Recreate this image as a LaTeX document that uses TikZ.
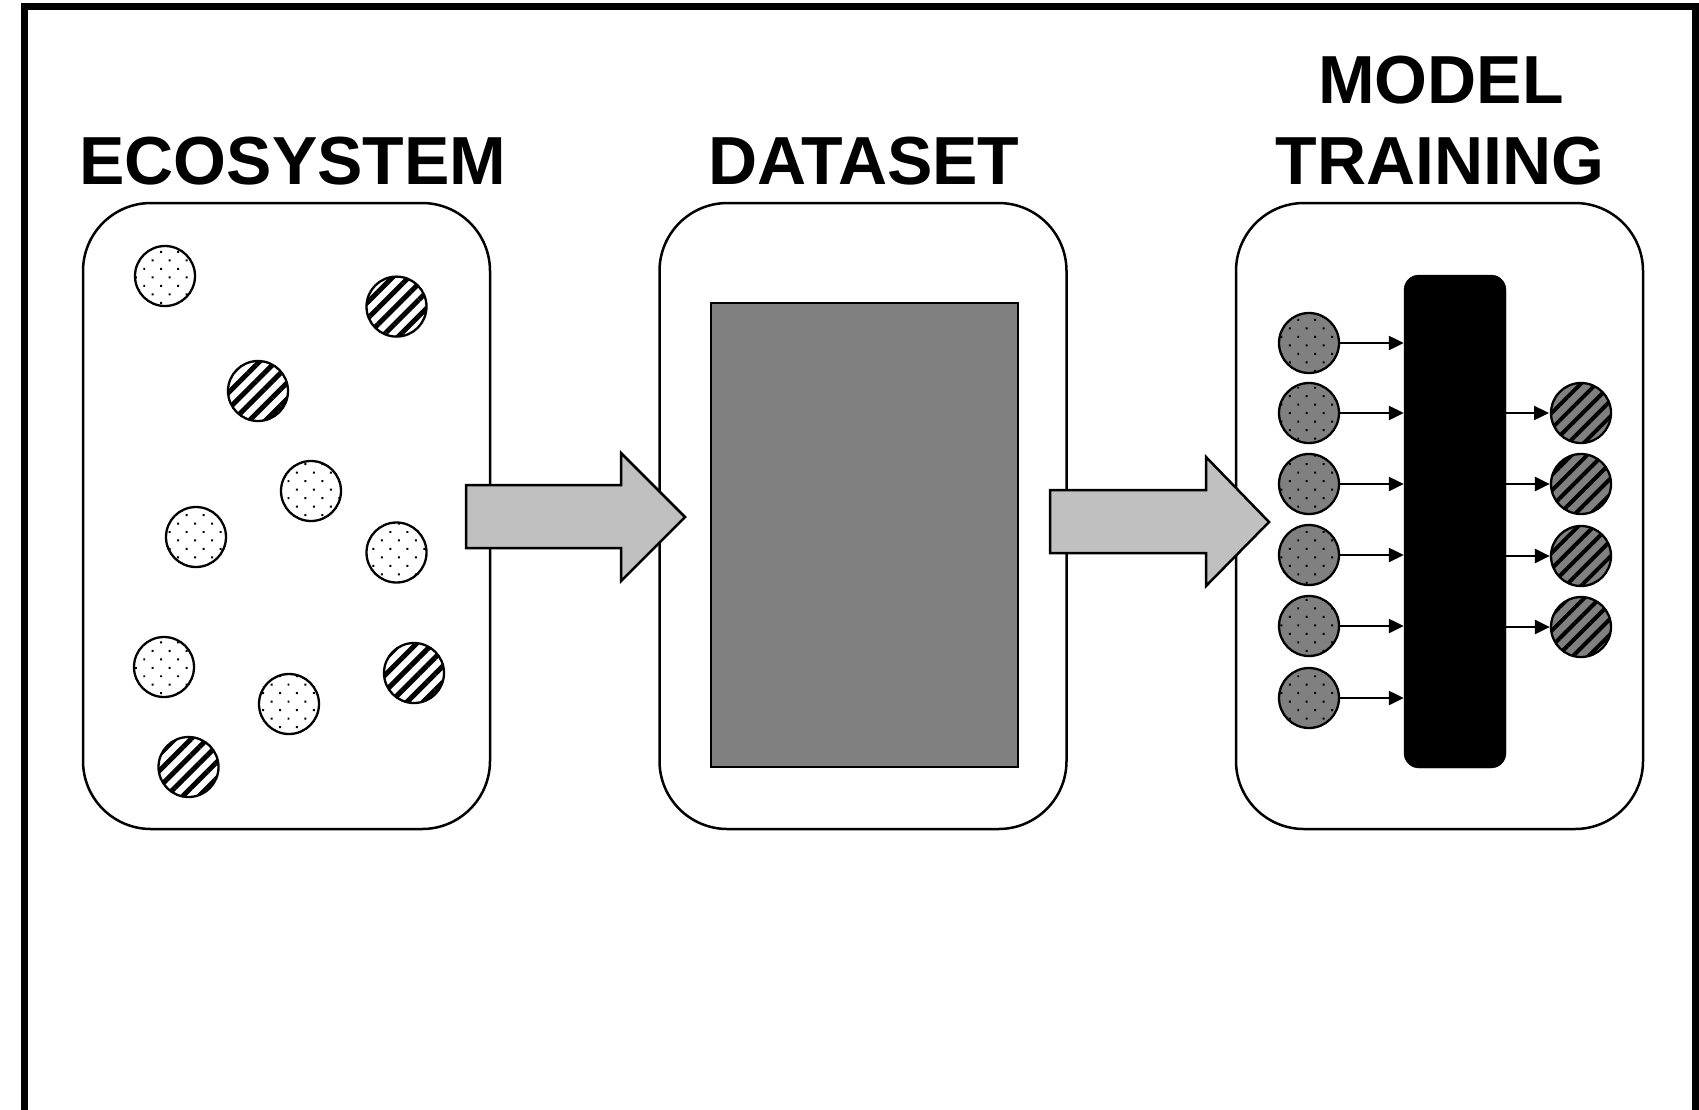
\documentclass[tikz,border=0pt]{standalone}
\usepackage{fontspec}
\setmainfont{Liberation Sans}
\usetikzlibrary{patterns.meta,arrows.meta}
\definecolor{midgray}{HTML}{808080}
\definecolor{lightgray}{HTML}{C0C0C0}
\begin{document}
\begin{tikzpicture}[x=1pt,y=-1pt,
  panel/.style={draw,line width=2.5pt,rounded corners=68pt,minimum width=407pt,minimum height=626pt,inner sep=0pt},
  title/.style={font=\bfseries\fontsize{68}{79}\selectfont,anchor=base,inner sep=0pt},
  dotc/.style={circle,draw,line width=2.3pt,minimum size=60pt,inner sep=0pt,
    pattern={Dots[angle=45,distance=12pt,radius=1.4pt]}},
  hatc/.style={circle,draw,line width=2.3pt,minimum size=60pt,inner sep=0pt,
    pattern={Lines[angle=45,distance=11.5pt,line width=5pt]}},
  gdotc/.style={dotc,preaction={fill=midgray}},
  ghatc/.style={circle,draw,line width=2.3pt,minimum size=60pt,inner sep=0pt,
    preaction={fill=midgray},pattern={Lines[angle=45,distance=11pt,line width=4pt]}},
  bigarrow/.style={draw,line width=2.5pt,fill=lightgray,line join=miter},
  smallarrow/.style={line width=2.3pt,-{Triangle[length=15pt,width=14pt]}}
]
\useasboundingbox (0,0) rectangle (1699,1109);
% outer frame (bottom edge lies outside the picture)
\draw[line width=6.5pt] (24.3,1125) -- (24.3,6.5) -- (1695.5,6.5) -- (1695.5,1125);

% titles
\node[title] (t1) at (293,184) {ECOSYSTEM};
\node[title] (t2) at (864,184) {DATASET};
\node[title] (t3a) at (1441,103) {MODEL};
\node[title] (t3b) at (1440,184) {TRAINING};

% panels
\node[panel] (eco) at (286.5,516) {};
\node[panel] (data) at (863,516) {};
\node[panel] (model) at (1439.5,516) {};

% ecosystem individuals
\node[dotc] (e1) at (165,276) {};
\node[hatc] (e2) at (396.5,306.6) {};
\node[hatc] (e3) at (258,391) {};
\node[dotc] (e4) at (311,491) {};
\node[dotc] (e5) at (196,537) {};
\node[dotc] (e6) at (396.5,552.5) {};
\node[dotc] (e7) at (164,667) {};
\node[hatc] (e8) at (414,673) {};
\node[dotc] (e9) at (289,704) {};
\node[hatc] (e10) at (188.5,767) {};

% dataset
\node[draw,line width=2.5pt,fill=midgray,minimum width=307pt,minimum height=464pt,inner sep=0pt] (ds) at (864.5,535) {};

% model
\node[fill=black,draw=black,rounded corners=15pt,minimum width=102pt,minimum height=493pt,inner sep=0pt] (net) at (1455,521.5) {};
\foreach \i/\y in {1/343,2/413,3/484,4/555,5/626,6/698}{
  \node[gdotc] (in\i) at (1309,\y) {};
  \draw[smallarrow] (in\i.east) -- (in\i.east -| net.west);
}
\foreach \i/\y in {1/413,2/484,3/556,4/627}{
  \node[ghatc] (out\i) at (1581,\y) {};
  \draw[smallarrow] (out\i.west -| net.east) -- (out\i.west);
}

% big arrows
\draw[bigarrow] (466,485) -- (621,485) -- (621,453) -- (685,517) -- (621,581) -- (621,548) -- (466,548) -- cycle;
\draw[bigarrow] (1050,490) -- (1206,490) -- (1206,457) -- (1269,522) -- (1206,586) -- (1206,553) -- (1050,553) -- cycle;
\end{tikzpicture}
\end{document}
